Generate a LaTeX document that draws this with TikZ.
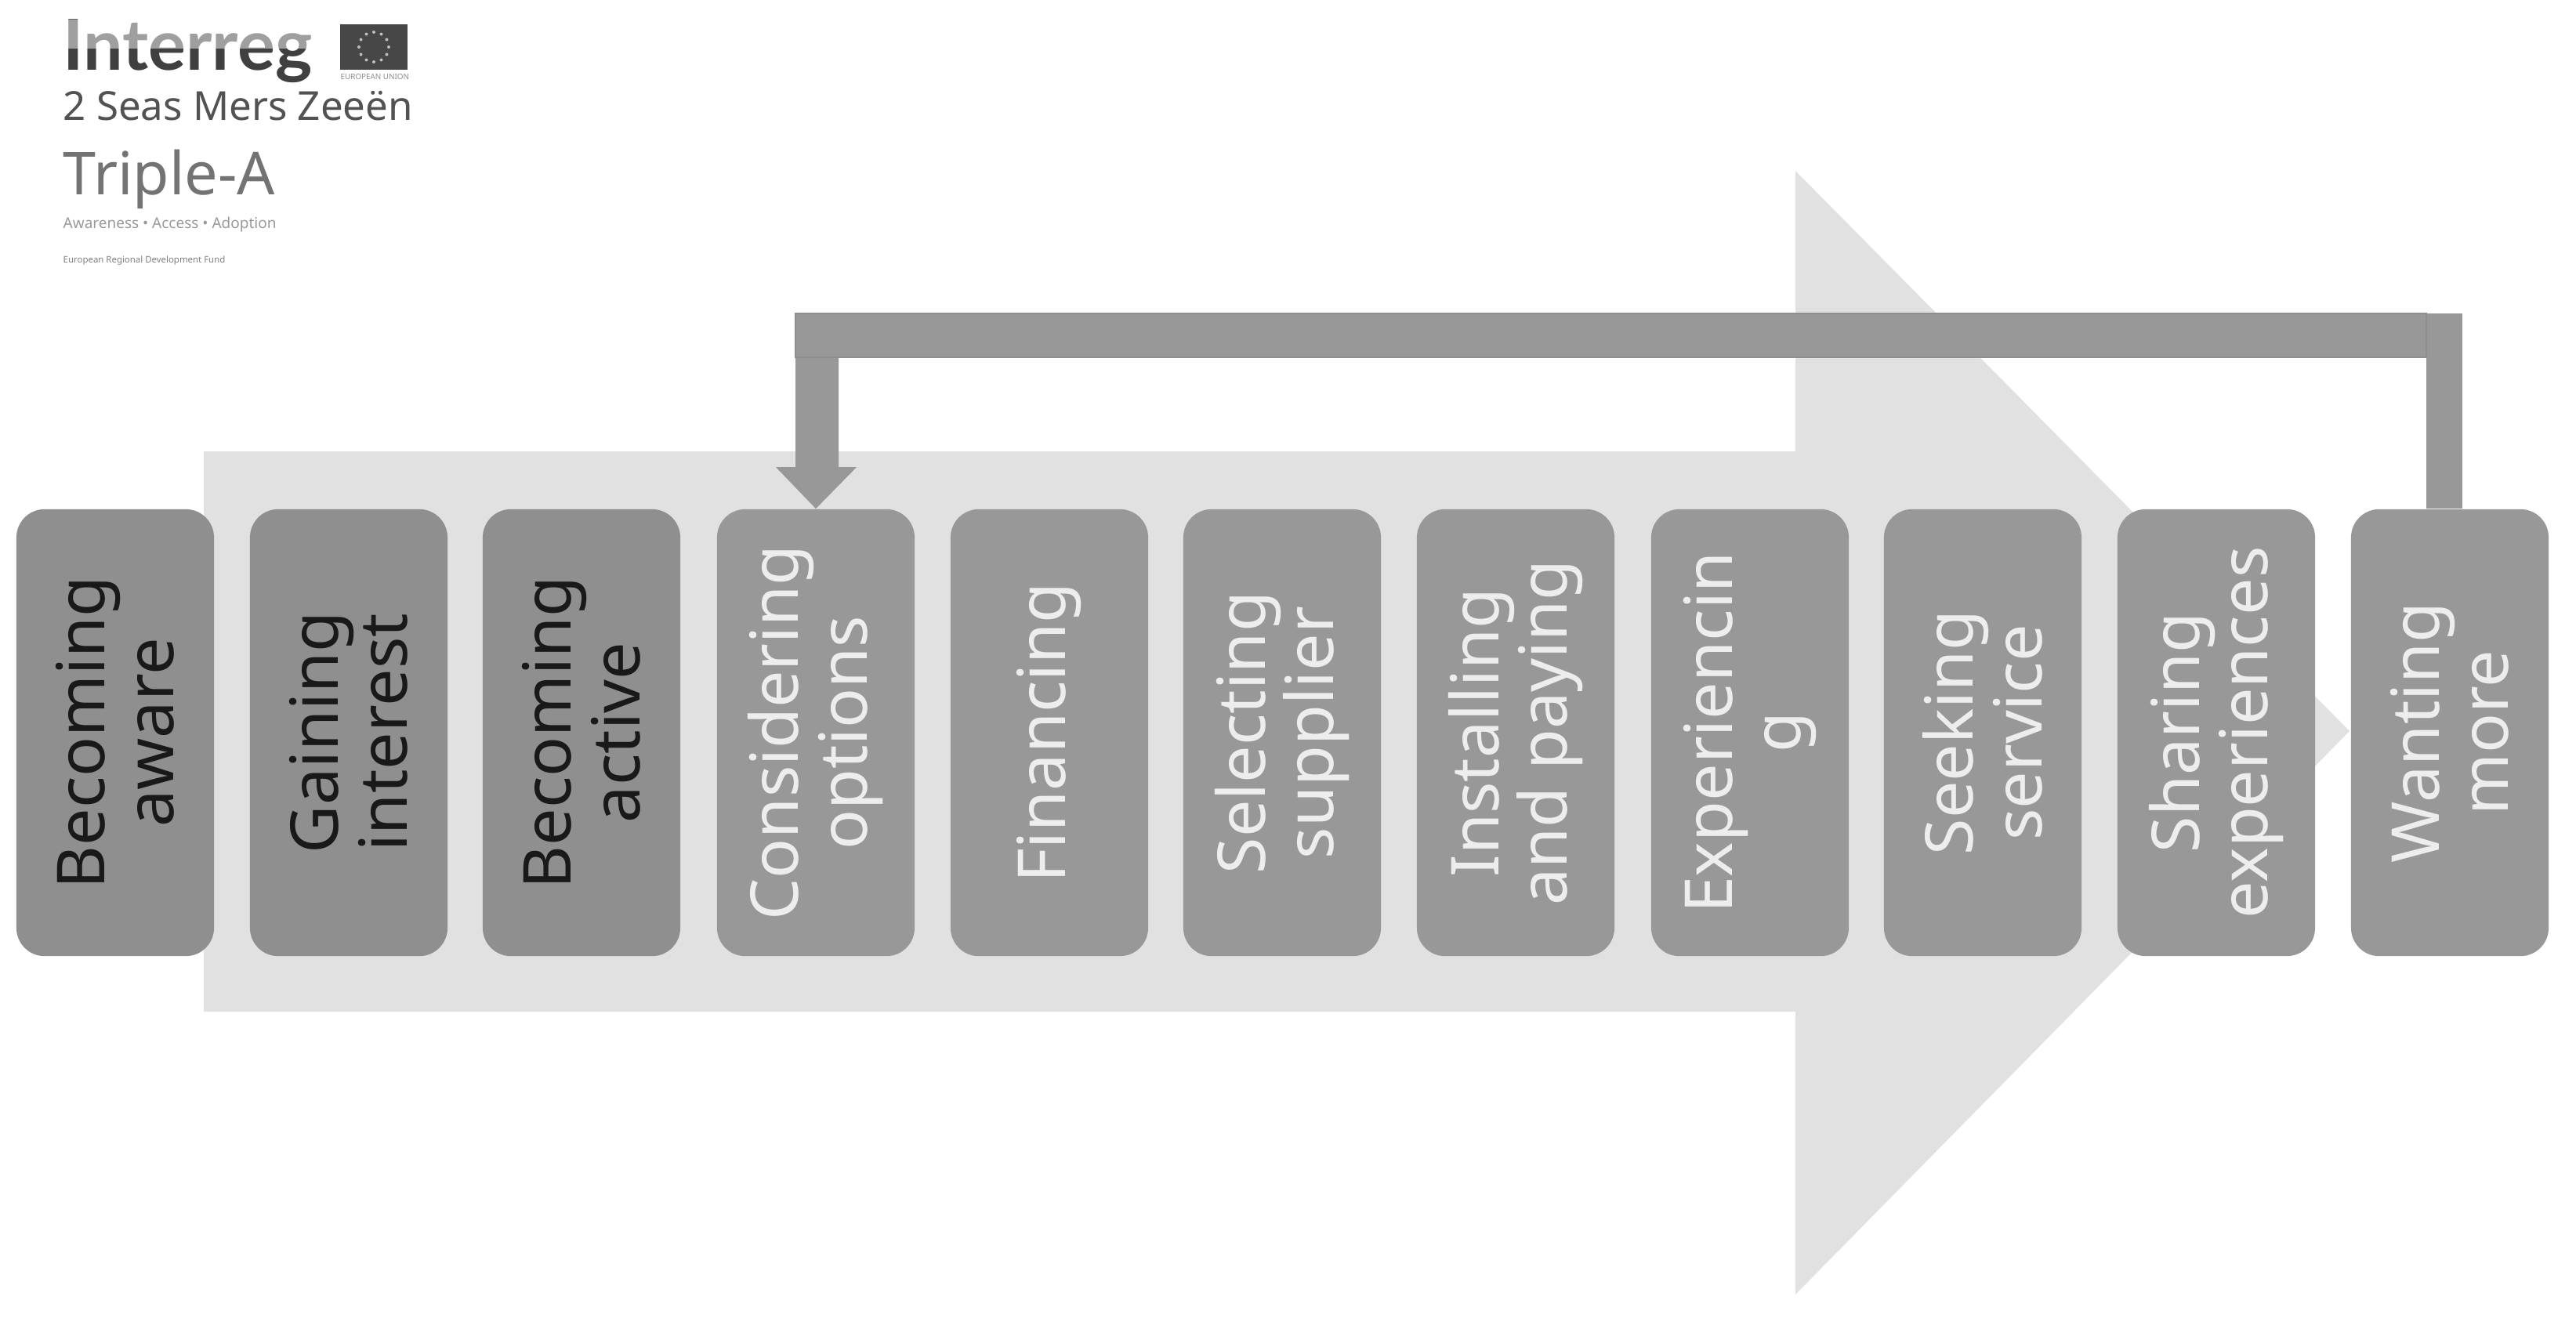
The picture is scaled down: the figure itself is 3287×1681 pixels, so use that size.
\documentclass[tikz,border=0pt]{standalone}
\usepackage{fontspec}
\setmainfont{Noto Sans}
\newfontfamily\logofont{Lato}
\usetikzlibrary{calc}
\definecolor{arrowgrey}{HTML}{E1E1E1}
\definecolor{boxgrey}{HTML}{989898}
\definecolor{boxdark}{HTML}{8F8F8F}
\definecolor{connedge}{HTML}{8F8F8F}
\tikzset{
  stage/.style={rectangle,rounded corners=0.36cm,fill=boxgrey,text=white!93!black,rotate=90,
    minimum width=5.7cm,minimum height=2.52cm,inner sep=0pt,align=center,
    font=\fontsize{24}{25}\selectfont},
  stagedark/.style={stage,fill=boxdark,text=black!90!white},
  connfill/.style={fill=boxgrey},
  connline/.style={fill=boxgrey,draw=connedge,line width=0.5pt},
  logotext/.style={anchor=base west,inner sep=0pt},
}
\begin{document}
\begin{tikzpicture}[x=0.01cm,y=-0.01cm]
\useasboundingbox (0,0) rectangle (3287,1681);
% big background arrow
\fill[arrowgrey] (260,576) -- (2291,576) -- (2291,218) -- (2998,933) -- (2291,1652) -- (2291,1291) -- (260,1291) -- cycle;
% stages
\node[stagedark] (s1) at (147,935) {Becoming\\aware};
\node[stagedark] (s2) at (445,935) {Gaining\\interest};
\node[stagedark] (s3) at (742,935) {Becoming\\active};
\node[stage] (s4) at (1041,935) {Considering\\options};
\node[stage] (s5) at (1339,935) {Financing};
\node[stage] (s6) at (1636,935) {Selecting\\supplier};
\node[stage] (s7) at (1934,935) {Installing\\and paying};
\node[stage] (s8) at (2233,935) {Experiencin\\g};
\node[stage] (s9) at (2530,935) {Seeking\\service};
\node[stage] (s10) at (2828,935) {Sharing\\experiences};
\node[stage] (s11) at (3126,935) {Wanting\\more};
% feedback connector: rotated nodes, so .east is the top side
\coordinate (wt) at (s11.east);
\coordinate (ct) at (s4.east);
\fill[connfill] ($(wt)+(-30,0)$) |- (3142,400) -- ($(wt)+(16,0)$) -- cycle;
\fill[connfill] ($(ct)+(-26,-193)$) -- ($(ct)+(-26,-53)$) -- ($(ct)+(-51,-53)$) -- (ct) -- ($(ct)+(52,-53)$) -- ($(ct)+(29,-53)$) -- ($(ct)+(29,-193)$) -- cycle;
\draw[connline] (1015,400) rectangle ($(wt)+(-30,-193)$);
% logo
\node[logotext,font=\logofont\fontsize{25.5}{26}\selectfont\bfseries,text=black!75] (l1) at (80,89) {Interreg};
\fill[white,opacity=0.5] (70,25) rectangle (420,62);
\fill[black!72] (434,31) rectangle (520,89);
\foreach \a in {0,30,...,330}{\fill[black!25] ($(477,60)+(\a:19)$) circle (2);}
\node[logotext,font=\fontsize{2.8}{4}\selectfont,text=black!45] (l2) at (434,101) {EUROPEAN UNION};
\node[logotext,font=\fontsize{14.5}{16}\selectfont,text=black!68] (l3) at (80,153) {2 Seas Mers Zeeën};
\node[logotext,font=\fontsize{21.5}{22}\selectfont,text=black!55] (l4) at (80,248) {Triple-A};
\node[logotext,font=\fontsize{5.4}{6}\selectfont,text=black!40] (l5) at (80,291) {Awareness • Access • Adoption};
\node[logotext,font=\fontsize{3.25}{4}\selectfont,text=black!50] (l6) at (80,335) {European Regional Development Fund};
\end{tikzpicture}
\end{document}
